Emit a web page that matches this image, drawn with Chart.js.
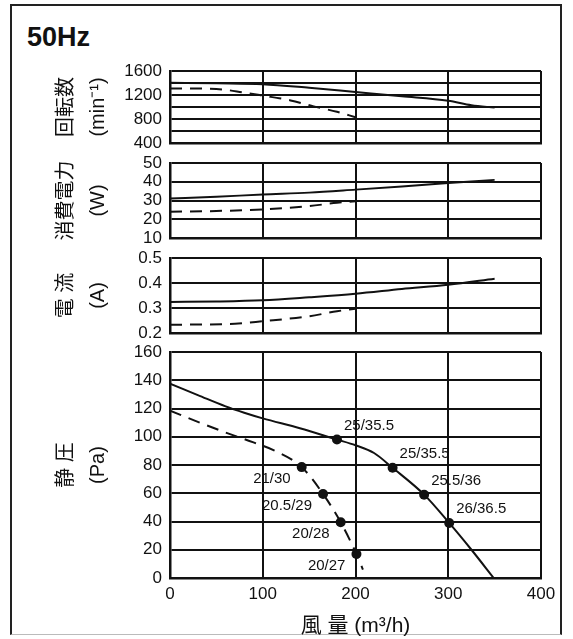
<!DOCTYPE html>
<html>
<head>
<meta charset="utf-8">
<title>50Hz</title>
<script src="https://cdn.jsdelivr.net/npm/chart.js@4.4.1/dist/chart.umd.min.js"></script>
<style>
    html, body { margin: 0; padding: 0; background: #fff; }
    body { width: 573px; height: 639px; position: relative; overflow: hidden; }
    #frame { position: absolute; left: 10px; top: 4px; width: 552px; height: 631px; border: 2px solid #222; border-bottom: 1px solid #bbb; box-sizing: border-box; }
    #hz { position: absolute; left: 27px; top: 24px; font: bold 27px/27px "Liberation Sans", Arial, sans-serif; color: #111; }
    canvas { position: absolute; left: 0; }
</style>
</head>
<body>
<div id="frame"></div>
<div id="hz">50Hz</div>
<canvas id="speedChart" width="573" height="112" style="top:51px"></canvas>
<canvas id="powerChart" width="573" height="115" style="top:143px"></canvas>
<canvas id="currentChart" width="573" height="115" style="top:238px"></canvas>
<canvas id="pressureChart" width="573" height="307" style="top:332px"></canvas>
<script>
// 回転数 (min-1)
const speedFlowA = [0, 50, 100, 150, 200, 250, 300, 325, 350];
const speedA = [1405, 1395, 1380, 1320, 1250, 1180, 1105, 1030, 990];
const speedFlowB = [0, 50, 80, 100, 130, 155, 180, 200];
const speedB = [1310, 1300, 1240, 1190, 1110, 1010, 920, 830];

// 消費電力 (W)
const powerFlowA = [0, 50, 100, 150, 200, 250, 300, 350];
const powerA = [31, 32, 33.2, 34.2, 35.8, 37.5, 39.3, 41];
const powerFlowB = [0, 50, 100, 150, 180, 200];
const powerB = [24, 24.4, 25.2, 27, 28.8, 29.6];

// 電流 (A)
const currentFlowA = [0, 50, 100, 150, 200, 250, 300, 350];
const currentA = [0.324, 0.326, 0.331, 0.343, 0.357, 0.376, 0.393, 0.417];
const currentFlowB = [0, 70, 100, 150, 180, 200];
const currentB = [0.233, 0.237, 0.247, 0.267, 0.287, 0.297];

// 静圧 (Pa)
const pressFlowA = [0, 30, 60, 80, 100, 140, 180, 200, 220, 240, 274, 301, 325, 349];
const pressA = [137.5, 129.5, 121.5, 117, 113, 106, 98, 94, 88.5, 78, 59, 39, 20, 0];
const pressLabelsA = ['', '', '', '', '', '', '25/35.5', '', '', '25/35.5', '25.5/36', '26/36.5', '', ''];
const pressFlowB = [0, 30, 60, 90, 115, 142, 165, 184, 201, 208];
const pressB = [118.5, 110.5, 103, 96, 89.5, 78.5, 59.5, 39.5, 17, 6];
const pressLabelsB = ['', '', '', '', '', '21/30', '20.5/29', '20/28', '20/27', ''];

// axis ticks
const flowTicks = { min: 0, max: 400, step: 100 };
const speedTicks = { min: 400, max: 1600, step: 200, labelEvery: 400 };
const powerTicks = { min: 10, max: 50, step: 10 };
const currentTicks = { min: 0.2, max: 0.5, step: 0.1 };
const pressTicks = { min: 0, max: 160, step: 20 };

const INK = '#111';
Chart.defaults.font.family = '"Liberation Sans", Arial, "Noto Sans CJK JP", sans-serif';
Chart.defaults.color = INK;

function toPoints(xs, ys) {
    return xs.map((x, i) => ({ x: x, y: ys[i] }));
}

// draws the small text next to the operating points
const pointTextPlugin = {
    id: 'pointText',
    afterDatasetsDraw(chart) {
        const ctx = chart.ctx;
        chart.data.datasets.forEach((ds, i) => {
            if (!ds.pointTexts) return;
            const meta = chart.getDatasetMeta(i);
            ctx.save();
            ctx.font = '15px "Liberation Sans", Arial, sans-serif';
            ctx.fillStyle = INK;
            ctx.textAlign = ds.textAlign;
            ctx.textBaseline = 'middle';
            meta.data.forEach((pt, j) => {
                const t = ds.pointTexts[j];
                if (t) ctx.fillText(t, pt.x + ds.textOffset[0], pt.y + ds.textOffset[1]);
            });
            ctx.restore();
        });
    }
};

function lineSet(xs, ys, dashed) {
    return {
        data: toPoints(xs, ys),
        borderColor: INK,
        borderWidth: 2,
        borderDash: dashed ? [12, 8] : [],
        pointRadius: 0,
        cubicInterpolationMode: 'monotone',
        fill: false
    };
}

function panelOptions(t, title, bottomAxis, fmt) {
    return {
        responsive: false,
        animation: false,
        events: [],
        layout: { padding: { top: 20, bottom: bottomAxis ? 0 : 20, left: 0, right: 32 } },
        plugins: { legend: { display: false }, tooltip: { enabled: false } },
        scales: {
            x: {
                type: 'linear',
                min: flowTicks.min,
                max: flowTicks.max,
                ticks: { stepSize: flowTicks.step, display: bottomAxis, padding: 6, font: { size: 17 } },
                grid: { color: INK, lineWidth: 2, drawTicks: false },
                border: { color: INK, width: 2.5 },
                title: { display: bottomAxis, text: '風 量 (m³/h)', font: { size: 21 }, padding: { top: 0, bottom: 0 } },
                afterFit: function(scale) { scale.height = bottomAxis ? 61 : 0; }
            },
            y: {
                min: t.min,
                max: t.max,
                ticks: { stepSize: t.step, autoSkip: false, padding: 8, font: { size: 17 }, callback: fmt },
                grid: { color: INK, lineWidth: 2, drawTicks: false },
                border: { color: INK, width: 2.5 },
                title: { display: true, text: title, font: { size: 20, lineHeight: 1.6 }, padding: { top: 50, bottom: 0 } },
                afterFit: function(scale) { scale.width = 170; }
            }
        }
    };
}

// 回転数
new Chart(document.getElementById('speedChart'), {
    type: 'line',
    data: { datasets: [lineSet(speedFlowA, speedA, false), lineSet(speedFlowB, speedB, true)] },
    options: panelOptions(speedTicks, ['回転数', '(min⁻¹)'], false,
        v => (v % speedTicks.labelEvery === 0 ? v : ''))
});

// 消費電力
new Chart(document.getElementById('powerChart'), {
    type: 'line',
    data: { datasets: [lineSet(powerFlowA, powerA, false), lineSet(powerFlowB, powerB, true)] },
    options: panelOptions(powerTicks, ['消費電力', '(W)'], false, v => v)
});

// 電流
new Chart(document.getElementById('currentChart'), {
    type: 'line',
    data: { datasets: [lineSet(currentFlowA, currentA, false), lineSet(currentFlowB, currentB, true)] },
    options: panelOptions(currentTicks, ['電 流', '(A)'], false, v => Number(v).toFixed(1))
});

// 静圧
const pressSetA = lineSet(pressFlowA, pressA, false);
pressSetA.pointRadius = ctx => (pressLabelsA[ctx.dataIndex] ? 5 : 0);
pressSetA.pointBackgroundColor = INK;
pressSetA.pointBorderWidth = 0;
pressSetA.pointTexts = pressLabelsA;
pressSetA.textAlign = 'left';
pressSetA.textOffset = [7, -14];

const pressSetB = lineSet(pressFlowB, pressB, true);
pressSetB.pointRadius = ctx => (pressLabelsB[ctx.dataIndex] ? 5 : 0);
pressSetB.pointBackgroundColor = INK;
pressSetB.pointBorderWidth = 0;
pressSetB.pointTexts = pressLabelsB;
pressSetB.textAlign = 'right';
pressSetB.textOffset = [-11, 12];

new Chart(document.getElementById('pressureChart'), {
    type: 'line',
    data: { datasets: [pressSetA, pressSetB] },
    options: panelOptions(pressTicks, ['静 圧', '(Pa)'], true, v => v),
    plugins: [pointTextPlugin]
});
</script>
</body>
</html>
